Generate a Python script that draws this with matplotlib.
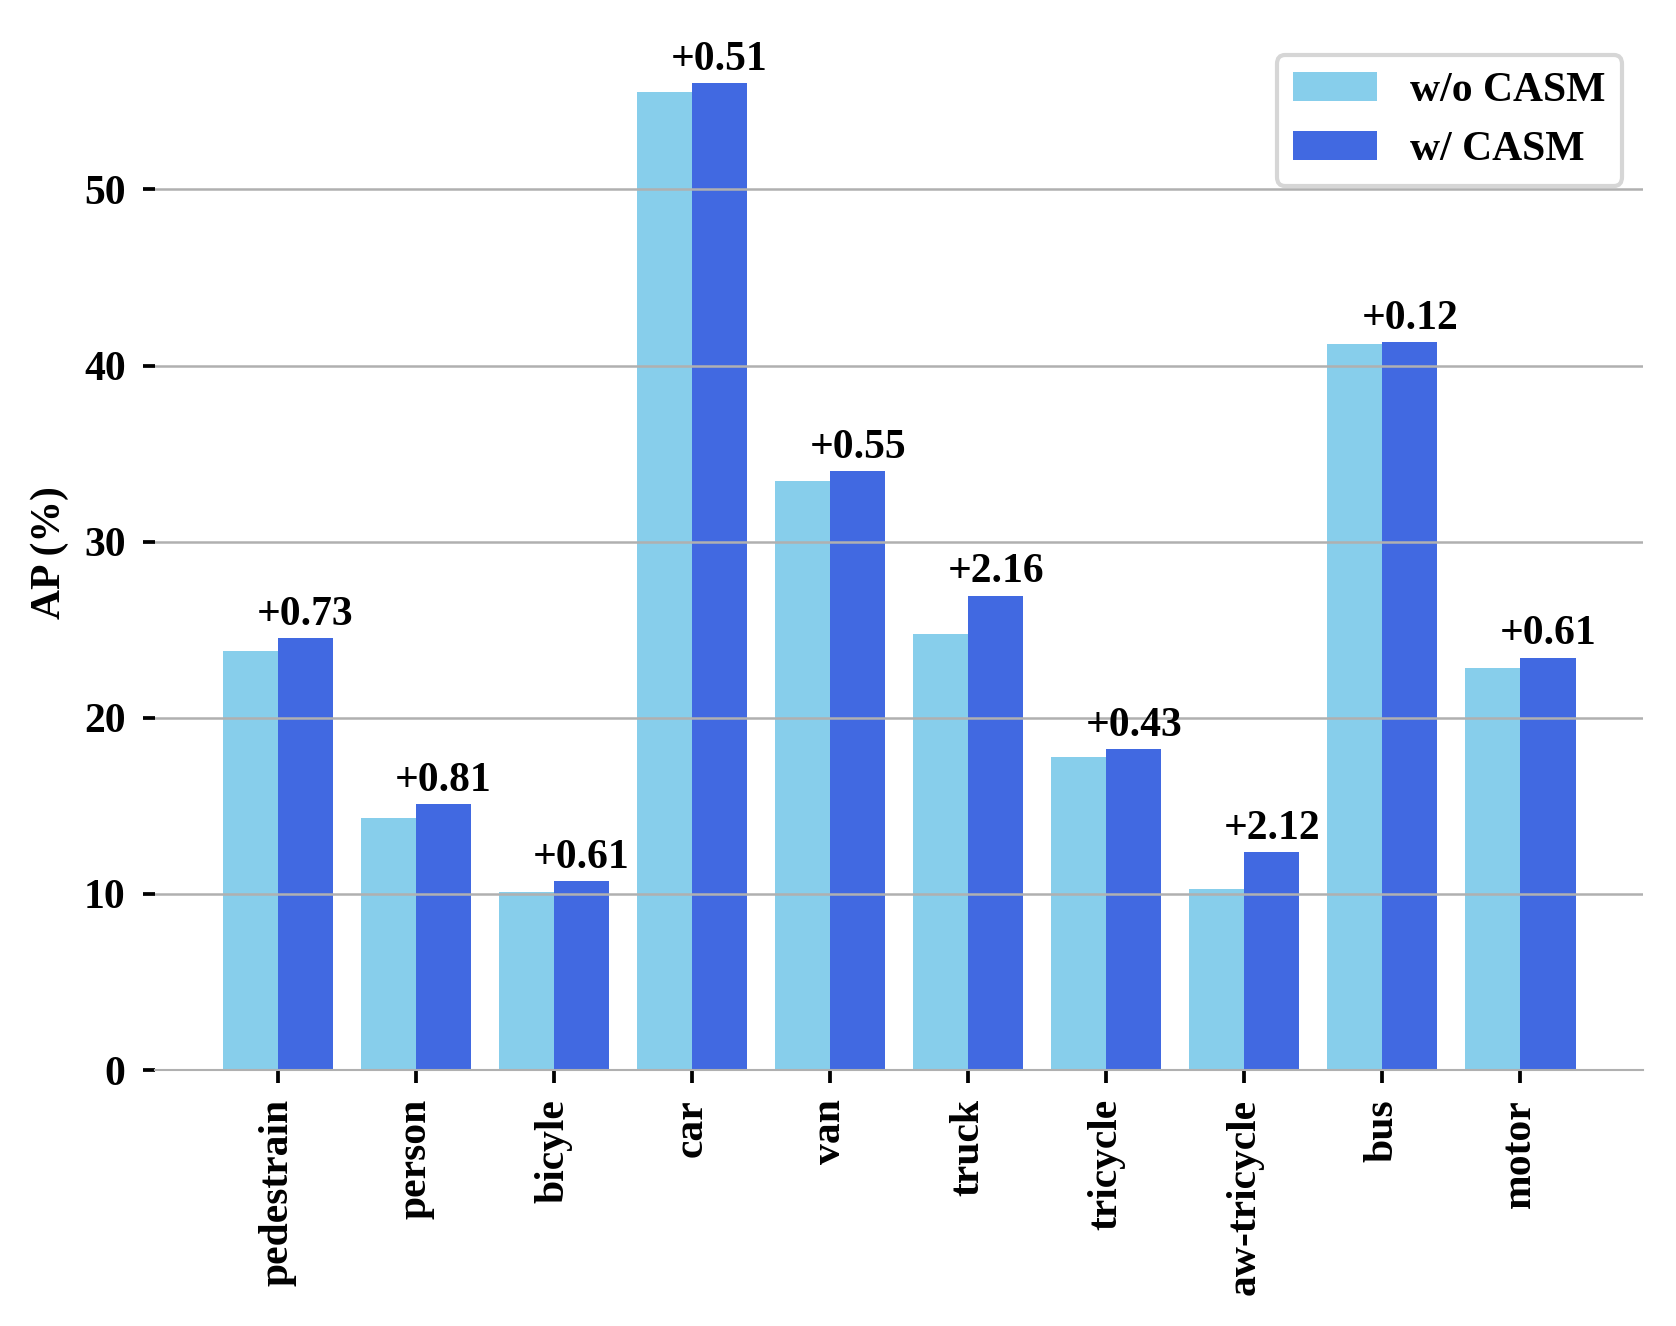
import matplotlib
matplotlib.use("Agg")
import matplotlib.pyplot as plt
import numpy as np

plt.rcParams['font.family'] = ['Liberation Serif', 'DejaVu Serif']
plt.rcParams['font.weight'] = 'bold'
plt.rcParams['font.size'] = 10

categories = ['pedestrain', 'person', 'bicyle', 'car', 'van', 'truck',
              'tricycle', 'aw-tricycle', 'bus', 'motor']
wo_casm = [23.80, 14.30, 10.13, 55.53, 33.45, 24.78, 17.78, 10.26, 41.20, 22.81]
w_casm = [24.53, 15.11, 10.74, 56.04, 34.00, 26.94, 18.21, 12.38, 41.32, 23.42]
gains = ['+0.73', '+0.81', '+0.61', '+0.51', '+0.55', '+2.16',
         '+0.43', '+2.12', '+0.12', '+0.61']

fig = plt.figure(figsize=(1676 / 300, 1326 / 300), dpi=300)
ax = fig.add_axes([0.0924, 0.193, 0.888, 0.781])

x = np.arange(len(categories))
width = 0.4
ax.bar(x - width / 2, wo_casm, width, color='#87CEEB', label='w/o CASM')
bars = ax.bar(x + width / 2, w_casm, width, color='#4169E1', label='w/ CASM')

# gain labels on top of the w/ CASM bars
for b, g in zip(bars, gains):
    ax.annotate(g, (b.get_x() + b.get_width() / 2, b.get_height()),
                xytext=(0, 1), textcoords='offset points',
                ha='center', va='bottom', fontsize=10, fontweight='bold')

ax.set_xlim(-0.89, len(categories) - 1 + 0.89)
ax.set_ylim(0, 58.8)
ax.set_yticks([0, 10, 20, 30, 40, 50])
ax.set_xticks(x)
ax.set_xticklabels(categories, rotation=90)
ax.set_ylabel('AP (%)', fontweight='bold', labelpad=3.5)

ax.yaxis.grid(True, color='#b0b0b0', linewidth=0.6)
for s in ['top', 'right', 'left']:
    ax.spines[s].set_visible(False)
ax.spines['bottom'].set_color('#b0b0b0')
ax.spines['bottom'].set_linewidth(0.5)
ax.tick_params(axis='both', length=3, width=0.9, pad=4)

ax.legend(loc='upper right', bbox_to_anchor=(1.0, 1.0), handlelength=2.0,
          handletextpad=0.8, prop={'weight': 'bold', 'size': 10})

fig.savefig('out.png', dpi=300)
